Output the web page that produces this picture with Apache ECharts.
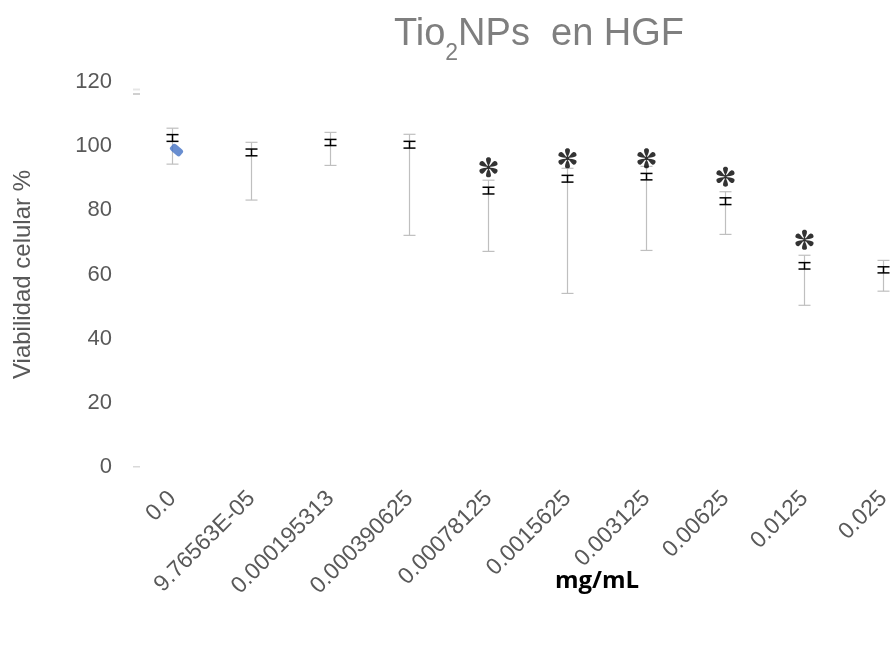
<!DOCTYPE html>
<html>
<head>
<meta charset="utf-8">
<script src="https://cdn.jsdelivr.net/npm/echarts@6/dist/echarts.min.js"></script>
<style>
html,body{margin:0;padding:0;background:#fff;}
#chart{width:890px;height:651px;}
</style>
</head>
<body>
<div id="chart"></div>
<script>
// ---- data ----
const categories = ['0.0','9.76563E-05','0.000195313','0.000390625','0.00078125','0.0015625','0.003125','0.00625','0.0125','0.025'];
const meanVals  = [102.5, 98.0, 101.1, 100.5, 86.1, 89.9, 90.5, 82.8, 62.7, 61.5];
const semHigh   = [103.6, 99.1, 102.1, 101.5, 87.2, 90.9, 91.5, 83.9, 63.7, 62.4];
const semLow    = [101.5, 97.0, 100.2, 99.4, 85.1, 88.8, 89.5, 81.8, 61.7, 60.5];
const rangeHigh = [105.6, 101.2, 104.3, 103.7, 89.4, 93.1, 93.7, 85.8, 66.0, 64.4];
const rangeLow  = [94.4, 83.2, 94.0, 72.2, 67.2, 54.1, 67.5, 72.5, 50.4, 54.8];
const starVals  = [null, null, null, null, 93.4, 96.2, 96.2, 90.5, 70.8, null];
const controlVals = [98.8, null, null, null, null, null, null, null, null, null];
const yTicks = [0, 20, 40, 60, 80, 100, 120];

const chart = echarts.init(document.getElementById('chart'), null, {renderer: 'canvas'});

function errRender(color, width, hw) {
  return function (params, api) {
    const i = api.value(0);
    const hi = api.coord([i, api.value(2)]);
    const lo = api.coord([i, api.value(1)]);
    const st = {stroke: color, lineWidth: width};
    return {
      type: 'group',
      children: [
        {type: 'line', shape: {x1: hi[0], y1: hi[1], x2: lo[0], y2: lo[1]}, style: st},
        {type: 'line', shape: {x1: hi[0] - hw, y1: hi[1], x2: hi[0] + hw, y2: hi[1]}, style: st},
        {type: 'line', shape: {x1: lo[0] - hw, y1: lo[1], x2: lo[0] + hw, y2: lo[1]}, style: st}
      ]
    };
  };
}

// asterisk glyph path (6 teardrop petals)
function starPath() {
  const pts = [[0,0],[-0.7,-3],[-2.8,-6],[-2.5,-8.4],[-2.1,-10.7],[2.1,-10.7],[2.5,-8.4],[2.8,-6],[0.7,-3],[0,0]];
  let d = '';
  for (let k = 0; k < 6; k++) {
    const a = k * Math.PI / 3, c = Math.cos(a), s = Math.sin(a);
    const r = pts.map(p => [(p[0]*c - p[1]*s + 12).toFixed(2), (p[0]*s + p[1]*c + 12).toFixed(2)]);
    d += 'M' + r[0].join(',') + 'C' + r[1].join(',') + ' ' + r[2].join(',') + ' ' + r[3].join(',') +
         'C' + r[4].join(',') + ' ' + r[5].join(',') + ' ' + r[6].join(',') +
         'C' + r[7].join(',') + ' ' + r[8].join(',') + ' ' + r[9].join(',') + 'Z';
  }
  d += 'M10.2,12C10.2,9.6 13.8,9.6 13.8,12C13.8,14.4 10.2,14.4 10.2,12Z';
  return 'path://' + d;
}

// title pieces measured
const ctx = document.createElement('canvas').getContext('2d');
const FF = '"Liberation Sans", Arial, sans-serif';
const mainFont = '38px ' + FF;
const subFont = '23px ' + FF;
ctx.font = mainFont;
const wTio = ctx.measureText('Tio').width;
const wRest = ctx.measureText('NPs  en HGF').width;
ctx.font = subFont;
const wSub = ctx.measureText('2').width;
const titleW = wTio + wSub + wRest;
const titleX = 539 - titleW / 2;

const option = {
  backgroundColor: '#ffffff',
  animation: false,
  textStyle: {fontFamily: FF},
  grid: {left: 133, width: 790, top: 82, bottom: 184, containLabel: false, outerBoundsMode: 'none'},
  xAxis: {
    type: 'category',
    data: categories,
    boundaryGap: true,
    axisLine: {show: false},
    axisTick: {show: false},
    axisLabel: {rotate: 45, fontSize: 23, color: '#595959', margin: 28, interval: 0, fontFamily: FF},
    splitLine: {show: false}
  },
  yAxis: {
    type: 'value',
    min: yTicks[0],
    max: yTicks[yTicks.length - 1],
    interval: 20,
    axisLine: {show: false},
    axisTick: {show: false},
    splitLine: {show: false},
    axisLabel: {fontSize: 22, color: '#595959', margin: 21, fontFamily: FF},
    name: 'Viabilidad celular %',
    nameLocation: 'middle',
    nameGap: 98,
    nameRotate: 90,
    nameTextStyle: {fontSize: 24, color: '#595959', fontFamily: FF}
  },
  graphic: [
    {type: 'group', children: [
      {type: 'text', x: titleX, y: 35, style: {text: 'Tio', font: mainFont, fill: '#7f7f7f', verticalAlign: 'middle', align: 'left'}},
      {type: 'text', x: titleX + wTio, y: 54, style: {text: '2', font: subFont, fill: '#7f7f7f', verticalAlign: 'middle', align: 'left'}},
      {type: 'text', x: titleX + wTio + wSub, y: 35, style: {text: 'NPs  en HGF', font: mainFont, fill: '#7f7f7f', verticalAlign: 'middle', align: 'left'}}
    ]},
    {type: 'text', x: 597, y: 581, style: {text: 'mg/mL', font: 'bold 24px "Open Sans", sans-serif', fill: '#000000', align: 'center', verticalAlign: 'middle'}},
    {type: 'rect', shape: {x: 133, y: 466, width: 7, height: 1.5}, style: {fill: '#d9d9d9'}},
    {type: 'rect', shape: {x: 133, y: 88.5, width: 7, height: 2}, style: {fill: '#e6e6e6'}},
    {type: 'rect', shape: {x: 133, y: 93, width: 7, height: 2}, style: {fill: '#d0d0d0'}}
  ],
  series: [
    {
      name: 'range',
      type: 'custom',
      renderItem: errRender('#bfbfbf', 1.2, 6),
      data: categories.map((c, i) => [i, rangeLow[i], rangeHigh[i]]),
      encode: {x: 0, y: [1, 2]},
      z: 2
    },
    {
      name: 'sem',
      type: 'custom',
      renderItem: errRender('#000000', 1.5, 6),
      data: categories.map((c, i) => [i, semLow[i], semHigh[i]]),
      encode: {x: 0, y: [1, 2]},
      z: 3
    },
    {
      name: 'mean',
      type: 'line',
      data: meanVals,
      showSymbol: false,
      lineStyle: {opacity: 0},
      silent: true
    },
    {
      name: 'control',
      type: 'scatter',
      data: controlVals,
      symbol: 'roundRect',
      symbolSize: [13, 8],
      symbolRotate: -40,
      symbolOffset: [4, 0],
      itemStyle: {color: '#4472c4'},
      z: 4
    },
    {
      name: 'sig',
      type: 'scatter',
      data: starVals,
      symbol: starPath(),
      symbolSize: 20,
      symbolKeepAspect: true,
      itemStyle: {color: '#000000'},
      z: 5
    }
  ]
};
chart.setOption(option);
</script>
</body>
</html>
